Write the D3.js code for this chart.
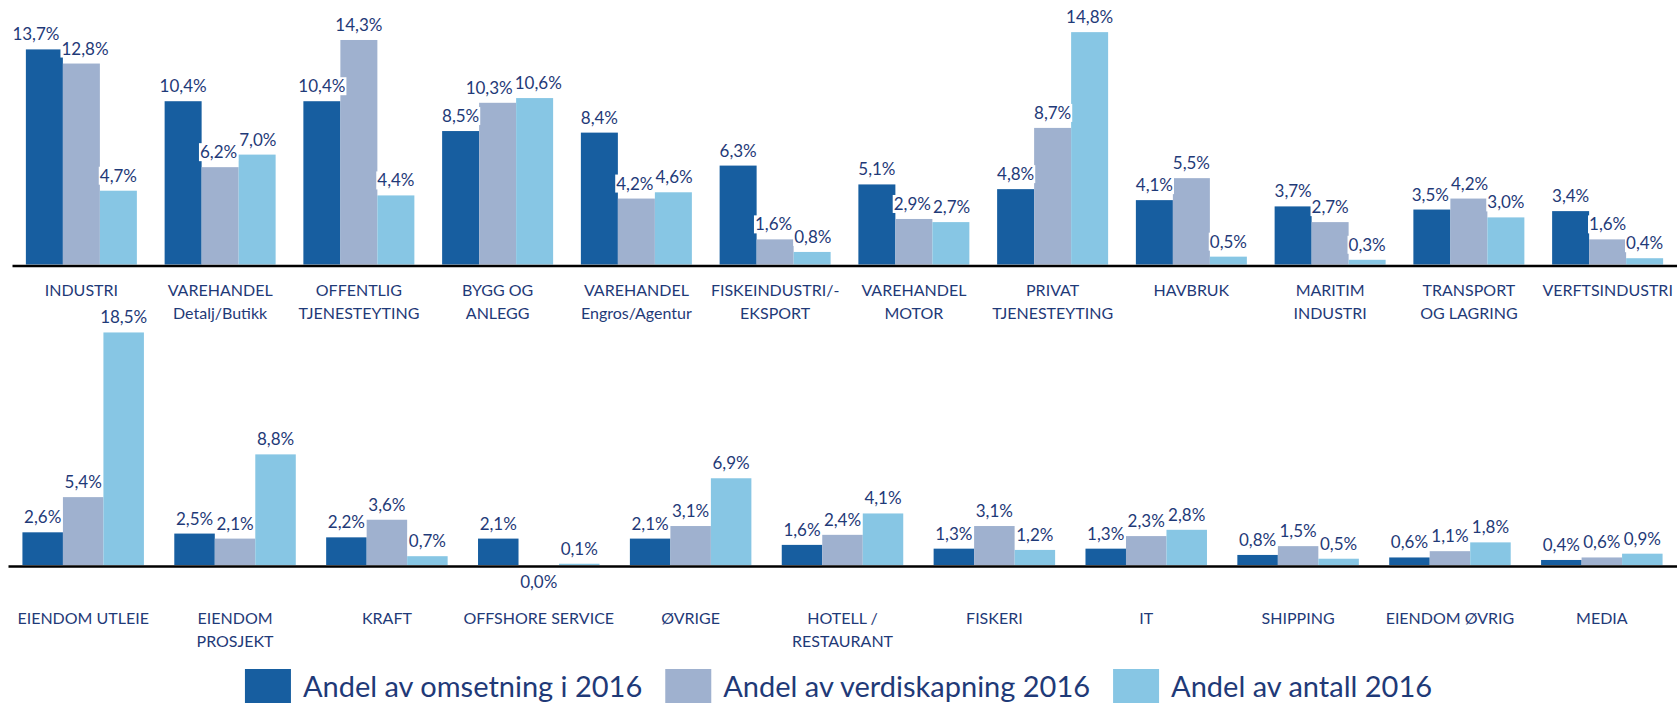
<!DOCTYPE html>
<html>
<head>
<meta charset="utf-8">
<script src="https://cdn.jsdelivr.net/npm/d3@7"></script>
<style>
  body { margin: 0; background: #fff; }
  text { font-family: Lato, "Open Sans", sans-serif; fill: #1F3A78; }
</style>
</head>
<body>
<svg id="chart" width="1677" height="705"></svg>
<script>
// series names (legend)
var seriesNames = ["Andel av omsetning i 2016", "Andel av verdiskapning 2016", "Andel av antall 2016"];
var seriesColors = ["#175EA0", "#9FB1CF", "#87C6E4"];

// top row
var topCategories = ["INDUSTRI", "VAREHANDEL\nDetalj/Butikk", "OFFENTLIG\nTJENESTEYTING", "BYGG OG\nANLEGG",
    "VAREHANDEL\nEngros/Agentur", "FISKEINDUSTRI/-\nEKSPORT", "VAREHANDEL\nMOTOR", "PRIVAT\nTJENESTEYTING",
    "HAVBRUK", "MARITIM\nINDUSTRI", "TRANSPORT\nOG LAGRING", "VERFTSINDUSTRI"];
var topOmsetning   = [13.7, 10.4, 10.4, 8.5, 8.4, 6.3, 5.1, 4.8, 4.1, 3.7, 3.5, 3.4];
var topVerdiskap   = [12.8, 6.2, 14.3, 10.3, 4.2, 1.6, 2.9, 8.7, 5.5, 2.7, 4.2, 1.6];
var topAntall      = [4.7, 7.0, 4.4, 10.6, 4.6, 0.8, 2.7, 14.8, 0.5, 0.3, 3.0, 0.4];

// bottom row
var bottomCategories = ["EIENDOM UTLEIE", "EIENDOM\nPROSJEKT", "KRAFT", "OFFSHORE SERVICE", "ØVRIGE",
    "HOTELL /\nRESTAURANT", "FISKERI", "IT", "SHIPPING", "EIENDOM ØVRIG", "MEDIA"];
var bottomOmsetning = [2.6, 2.5, 2.2, 2.1, 2.1, 1.6, 1.3, 1.3, 0.8, 0.6, 0.4];
var bottomVerdiskap = [5.4, 2.1, 3.6, 0.0, 3.1, 2.4, 3.1, 2.3, 1.5, 1.1, 0.6];
var bottomAntall    = [18.5, 8.8, 0.7, 0.1, 6.9, 4.1, 1.2, 2.8, 0.5, 1.8, 0.9];

var svg = d3.select("#chart");
var fmt = function (v) { return d3.format(".1f")(v).replace(".", ",") + "%"; };

function drawPanel(cats, series, opt) {
    var g = svg.append("g");

    var x = d3.scaleBand()
        .domain(cats)
        .range([opt.x0, 1677])
        .paddingInner(opt.padIn)
        .paddingOuter(opt.padOut);

    var xs = d3.scaleBand()
        .domain(d3.range(series.length))
        .range([0, x.bandwidth()]);

    var y = d3.scaleLinear()
        .domain([0, opt.maxVal])
        .range([opt.base, opt.base - opt.maxVal * opt.pxPer]);

    // rows: one object per category
    var rows = cats.map(function (c, i) {
        return { cat: c, vals: series.map(function (s) { return s[i]; }) };
    });

    var groups = g.selectAll(".grp")
        .data(rows)
        .enter()
        .append("g")
        .attr("class", "grp")
        .attr("transform", function (d) { return "translate(" + x(d.cat) + ",0)"; });

    groups.selectAll("rect")
        .data(function (d) { return d.vals; })
        .enter()
        .append("rect")
        .attr("x", function (d, i) { return xs(i); })
        .attr("y", function (d) { return y(d); })
        .attr("width", xs.bandwidth())
        .attr("height", function (d) { return y(0) - y(d); })
        .attr("fill", function (d, i) { return seriesColors[i]; });

    // value labels (white background like Excel)
    var labs = groups.selectAll(".val")
        .data(function (d) { return d.vals; })
        .enter()
        .append("g")
        .attr("class", "val");

    labs.append("text")
        .attr("x", function (d, i) { return xs(i) + xs.bandwidth() / 2; })
        .attr("y", function (d) { return d > 0 ? y(d) - 9 : y(0) + 23; })
        .attr("text-anchor", "middle")
        .attr("font-size", "17px")
        .text(fmt);

    // nudge neighbouring labels apart when they collide (as Excel does)
    groups.each(function () {
        var texts = d3.select(this).selectAll(".val text").nodes();
        for (var k = 0; k < texts.length - 1; k++) {
            var a = texts[k].getBBox(), b = texts[k + 1].getBBox();
            var vOver = (a.y + 3 < b.y + b.height - 3) && (b.y + 3 < a.y + a.height - 3);
            var hOver = a.x + a.width + 2 - b.x;
            if (vOver && hOver > 0) {
                texts[k].setAttribute("x", +texts[k].getAttribute("x") - hOver * 0.7);
                texts[k + 1].setAttribute("x", +texts[k + 1].getAttribute("x") + hOver * 0.3);
            }
        }
    });

    labs.each(function () {
        var t = d3.select(this).select("text");
        var bb = t.node().getBBox();
        d3.select(this).insert("rect", "text")
            .attr("x", bb.x - 1).attr("y", bb.y + 2)
            .attr("width", bb.width + 2).attr("height", bb.height - 3)
            .attr("fill", "#fff");
    });

    // axis (line + category labels)
    var ax = g.append("g")
        .attr("transform", "translate(0," + (opt.base + 1) + ")")
        .call(d3.axisBottom(x).tickSize(0).tickSizeOuter(0));

    ax.select(".domain").attr("stroke", "#000").attr("stroke-width", 2.5);

    ax.selectAll(".tick text")
        .attr("font-size", "16px")
        .attr("font-family", "Lato, sans-serif")
        .attr("fill", "#1F3A78")
        .attr("y", opt.labelY)
        .attr("dy", null)
        .each(function (d) {
            var t = d3.select(this);
            var lines = d.split("\n");
            t.text(null);
            lines.forEach(function (ln, k) {
                t.append("tspan")
                    .attr("x", 0)
                    .attr("dy", k === 0 ? 0 : 23)
                    .text(ln);
            });
        });
}

drawPanel(topCategories, [topOmsetning, topVerdiskap, topAntall],
    { x0: 12, padIn: 0.2, padOut: 0.1, base: 264.5, maxVal: 16, pxPer: 15.7, labelY: 30 });

drawPanel(bottomCategories, [bottomOmsetning, bottomVerdiskap, bottomAntall],
    { x0: 8, padIn: 0.2, padOut: 0.095, base: 565, maxVal: 20, pxPer: 12.57, labelY: 58 });

// legend, centred
var legend = svg.append("g");
var items = legend.selectAll(".leg")
    .data(seriesNames)
    .enter()
    .append("g")
    .attr("class", "leg");

items.append("rect")
    .attr("y", 669)
    .attr("width", 46)
    .attr("height", 34)
    .attr("fill", function (d, i) { return seriesColors[i]; });

items.append("text")
    .attr("x", 58)
    .attr("y", 697)
    .attr("font-size", "29px")
    .text(function (d) { return d; });

var pos = 0;
var starts = [];
items.each(function () {
    var w = d3.select(this).select("text").node().getComputedTextLength();
    starts.push(pos);
    pos += 58 + w + 23;
});
var total = pos - 23;
var left = (1677 - total) / 2;
items.attr("transform", function (d, i) { return "translate(" + (left + starts[i]) + ",0)"; });
</script>
</body>
</html>
